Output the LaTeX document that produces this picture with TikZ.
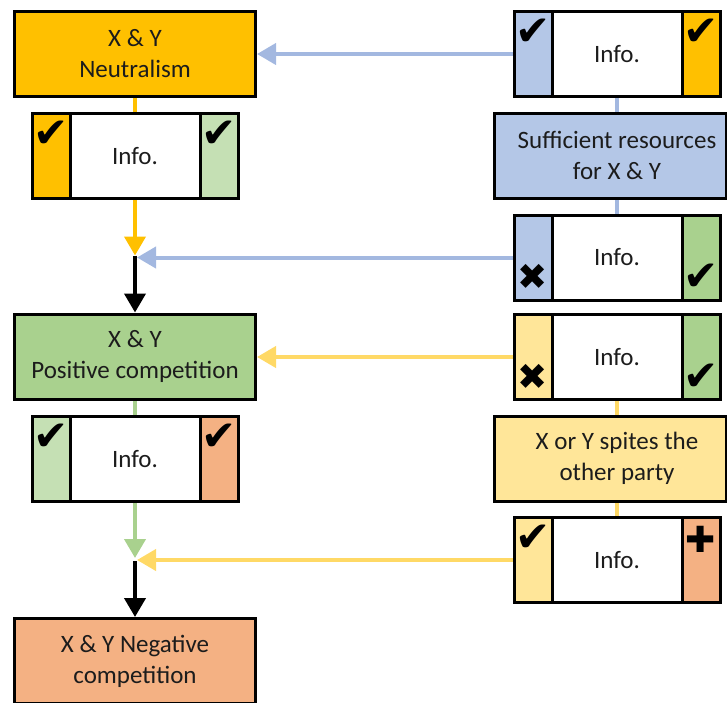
\documentclass[tikz,border=0pt]{standalone}
\usepackage{fontspec}
\setmainfont{Carlito}
\newfontfamily\symfont{DejaVu Sans}
\usetikzlibrary{arrows.meta,calc}
\pgfdeclarelayer{background}
\pgfsetlayers{background,main}

\definecolor{cOrange}{HTML}{FFC000}
\definecolor{cBlue}{HTML}{B4C7E7}
\definecolor{cBlueLine}{HTML}{A3B8E0}
\definecolor{cGreen}{HTML}{A9D18E}
\definecolor{cGreenLt}{HTML}{C5E0B4}
\definecolor{cYellow}{HTML}{FFE699}
\definecolor{cYellowLine}{HTML}{FFD966}
\definecolor{cSalmon}{HTML}{F4B183}
\definecolor{cText}{HTML}{1C1C1C}

\tikzset{
  boxtext/.style={align=center, font=\fontsize{25}{31}\selectfont, text=cText},
  box/.style={boxtext, draw=black, line width=3pt, minimum width=241pt,
    minimum height=85pt, inner sep=0pt},
  widebox/.style={draw=black, line width=3pt, minimum width=232pt,
    minimum height=85pt, inner sep=0pt},
  info/.style={boxtext, draw=black, line width=3pt, fill=white,
    minimum width=206pt, minimum height=85pt, inner sep=0pt, outer sep=0pt},
  strip/.style={draw=black, line width=3pt, minimum width=38pt,
    minimum height=85pt, inner sep=0pt, outer sep=0pt},
  tick/.style={inner sep=0pt, text=black, font=\symfont\fontsize{42}{42}\selectfont},
  cross/.style={tick, font=\symfont\fontsize{36}{36}\selectfont},
  link/.style={line width=4pt, -{Triangle[length=19pt,width=21pt]}},
  plain/.style={line width=4pt},
}

\begin{document}
\begin{tikzpicture}[x=1pt, y=-1pt]
\useasboundingbox (0,0) rectangle (727,702);

% ---- left column: outcomes ----
\node[box, fill=cOrange] (neu) at (135,54) {X \& Y\\Neutralism};
\node[info] (l1) at (135,156) {Info.};
\node[strip, fill=cOrange, anchor=north west] (l1a) at (l1.north west) {};
\node[strip, fill=cGreenLt, anchor=north east] (l1b) at (l1.north east) {};
\node[tick, anchor=north] (l1am) at ($(l1a.north)+(0,-7pt)$) {✔};
\node[tick, anchor=north] (l1bm) at ($(l1b.north)+(0,-7pt)$) {✔};

\node[box, fill=cGreen] (pos) at (135,356.5) {X \& Y\\Positive competition};
\node[info] (l2) at (135,459) {Info.};
\node[strip, fill=cGreenLt, anchor=north west] (l2a) at (l2.north west) {};
\node[strip, fill=cSalmon, anchor=north east] (l2b) at (l2.north east) {};
\node[tick, anchor=north] (l2am) at ($(l2a.north)+(0,-7pt)$) {✔};
\node[tick, anchor=north] (l2bm) at ($(l2b.north)+(0,-7pt)$) {✔};

\node[box, fill=cSalmon] (neg) at (135,661) {X \& Y Negative\\competition};

\coordinate (j1) at (135,255.5);
\coordinate (j2) at (135,558);

% ---- right column: conditions ----
\node[info] (r1) at (617,54) {Info.};
\node[strip, fill=cBlue, anchor=north west] (r1a) at (r1.north west) {};
\node[strip, fill=cOrange, anchor=north east] (r1b) at (r1.north east) {};
\node[tick, anchor=north] (r1am) at ($(r1a.north)+(0,-7pt)$) {✔};
\node[tick, anchor=north] (r1bm) at ($(r1b.north)+(0,-7pt)$) {✔};

\node[widebox, fill=cBlue] (suff) at (610,155.5) {};
\node[boxtext] (sufft) at (617,155.5) {Sufficient resources\\for X \& Y};

\node[info] (r2) at (617,257.5) {Info.};
\node[strip, fill=cBlue, anchor=north west] (r2a) at (r2.north west) {};
\node[strip, fill=cGreen, anchor=north east] (r2b) at (r2.north east) {};
\node[cross, anchor=south] (r2am) at ($(r2a.south)+(0,10pt)$) {✖};
\node[tick, anchor=south] (r2bm) at ($(r2b.south)+(0,9pt)$) {✔};

\node[info] (r3) at (617,357) {Info.};
\node[strip, fill=cYellow, anchor=north west] (r3a) at (r3.north west) {};
\node[strip, fill=cGreen, anchor=north east] (r3b) at (r3.north east) {};
\node[cross, anchor=south] (r3am) at ($(r3a.south)+(0,10pt)$) {✖};
\node[tick, anchor=south] (r3bm) at ($(r3b.south)+(0,9pt)$) {✔};

\node[widebox, fill=cYellow] (spite) at (610,458.5) {};
\node[boxtext] (spitet) at (617,458.5) {X or Y spites the\\other party};

\node[info] (r4) at (617,560) {Info.};
\node[strip, fill=cYellow, anchor=north west] (r4a) at (r4.north west) {};
\node[strip, fill=cSalmon, anchor=north east] (r4b) at (r4.north east) {};
\node[tick, anchor=north] (r4am) at ($(r4a.north)+(0,-7pt)$) {✔};
\node[cross, anchor=north] (r4bm) at ($(r4b.north)+(0,-9pt)$) {✚};

% ---- connectors, kept behind the boxes ----
\begin{pgfonlayer}{background}
  \draw[plain, cBlueLine] (r1.center) -- (r2.center);
  \draw[plain, cYellowLine] (r3.center) -- (r4.center);

  \draw[link, cOrange] (neu.south) -- (j1);
  \draw[link, black] (j1) -- (pos.north);
  \draw[link, cBlueLine] (r1.west) -- (r1.west -| neu.east);
  \draw[link, cBlueLine, shorten >=2pt] (r2.west) -- (r2.west -| j1);

  \draw[link, cGreen] (pos.south) -- (j2);
  \draw[link, black] ($(j2)+(0,-3pt)$) -- (neg.north);
  \draw[link, cYellowLine] (r3.west) -- (r3.west -| pos.east);
  \draw[link, cYellowLine, shorten >=2pt] (r4.west) -- (r4.west -| j2);
\end{pgfonlayer}
\end{tikzpicture}
\end{document}
